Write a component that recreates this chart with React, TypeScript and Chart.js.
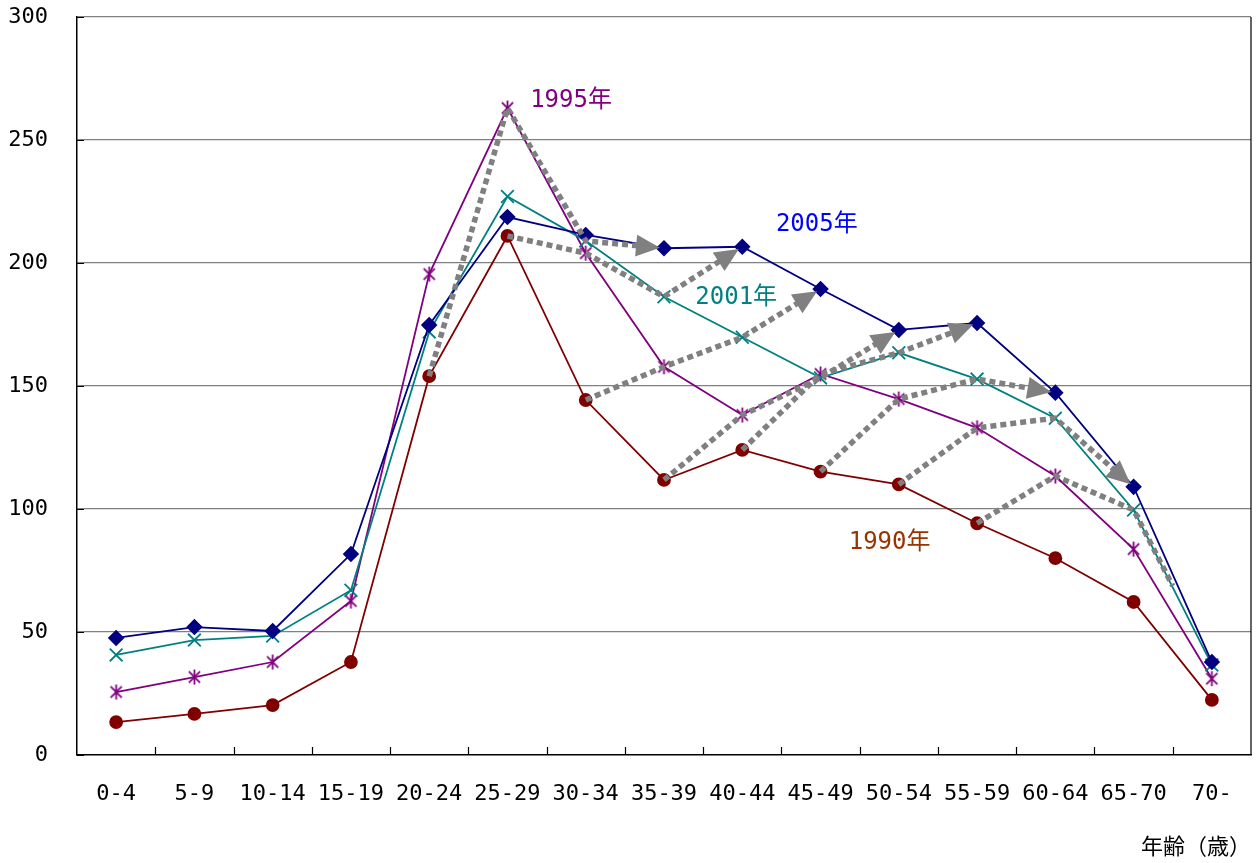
import React, { useEffect, useRef } from 'react';
import { Chart, registerables } from 'chart.js';

Chart.register(...registerables);

// Age groups (x axis) and rates per survey year
const ageGroups = ['0-4', '5-9', '10-14', '15-19', '20-24', '25-29', '30-34', '35-39', '40-44', '45-49', '50-54', '55-59', '60-64', '65-70', '70-'];
const rate2005 = [47.6, 52, 50.4, 81.7, 174.8, 218.7, 211.4, 206, 206.6, 189.4, 172.8, 175.6, 147.3, 109, 37.8];
const rate2001 = [40.7, 46.7, 48.4, 67, 172, 227, 209, 186.3, 169.8, 153.3, 163.5, 152.8, 136.9, 99.6, 36.6];
const rate1995 = [25.6, 31.7, 37.8, 62.6, 195.5, 263, 204, 157.8, 138.2, 154.9, 144.7, 133, 113.4, 83.7, 31];
const rate1990 = [13.4, 16.7, 20.3, 37.8, 154, 211, 144.3, 111.8, 124, 115.2, 110, 94.2, 80, 62.2, 22.4];
const yTicks = [0, 50, 100, 150, 200, 250, 300];
const axisTitle = '年齢（歳）';

// Cohorts followed across the four surveys (index of the 1990 age group)
const cohortStarts = [4, 5, 6, 7, 8, 9, 10];
const openCohortStart = 11;

const FONT = '"DejaVu Sans Mono", "Noto Sans CJK JP", monospace';
const NAVY = '#000080';
const TEAL = '#008080';
const PURPLE = '#800080';
const MAROON = '#800000';

function makeAsterisk(color: string): HTMLCanvasElement {
  const size = 17;
  const c = document.createElement('canvas');
  c.width = size;
  c.height = size;
  const g = c.getContext('2d')!;
  g.strokeStyle = color;
  g.lineWidth = 1.8;
  const m = size / 2;
  const r = 7.5;
  const d = 5.6;
  g.beginPath();
  g.moveTo(m, m - r);
  g.lineTo(m, m + r);
  g.moveTo(m - d, m - d);
  g.lineTo(m + d, m + d);
  g.moveTo(m - d, m + d);
  g.lineTo(m + d, m - d);
  g.stroke();
  return c;
}

const frameAndTicks = {
  id: 'frameAndTicks',
  afterDraw(chart: any) {
    const { ctx, chartArea, scales } = chart;
    const x = scales.x;
    const y = scales.y;
    ctx.save();
    ctx.strokeStyle = '#000';
    ctx.lineWidth = 1.2;
    ctx.beginPath();
    ctx.moveTo(chartArea.right, chartArea.top);
    ctx.lineTo(chartArea.right, chartArea.bottom);
    for (let i = 1; i < ageGroups.length; i++) {
      const px = Math.round((x.getPixelForValue(i - 1) + x.getPixelForValue(i)) / 2) + 0.5;
      ctx.moveTo(px, chartArea.bottom);
      ctx.lineTo(px, chartArea.bottom - 8);
    }
    yTicks.forEach((v) => {
      const py = Math.round(y.getPixelForValue(v)) + 0.5;
      ctx.moveTo(chartArea.left, py);
      ctx.lineTo(chartArea.left + 7, py);
    });
    ctx.stroke();
    ctx.restore();
  },
};

const cohortArrows = {
  id: 'cohortArrows',
  afterDatasetsDraw(chart: any) {
    const { ctx, scales } = chart;
    const x = scales.x;
    const y = scales.y;
    const waves = [rate1990, rate1995, rate2001, rate2005];
    const pointsFor = (start: number) =>
      waves.map((arr, k) => ({ x: x.getPixelForValue(start + k), y: y.getPixelForValue(arr[start + k]) }));

    ctx.save();
    ctx.strokeStyle = '#808080';
    ctx.fillStyle = '#808080';
    ctx.lineWidth = 5.5;
    ctx.lineCap = 'butt';
    ctx.setLineDash([6, 4]);

    cohortStarts.forEach((start) => {
      const p = pointsFor(start);
      const a = p[2];
      const b = p[3];
      const dx = b.x - a.x;
      const dy = b.y - a.y;
      const len = Math.hypot(dx, dy);
      const ux = dx / len;
      const uy = dy / len;
      const tipX = b.x - ux * 4;
      const tipY = b.y - uy * 4;
      const headLen = 24;
      const halfW = 11;
      const baseX = tipX - ux * headLen;
      const baseY = tipY - uy * headLen;
      ctx.beginPath();
      ctx.moveTo(p[0].x, p[0].y);
      ctx.lineTo(p[1].x, p[1].y);
      ctx.lineTo(p[2].x, p[2].y);
      ctx.lineTo(baseX + ux * 4, baseY + uy * 4);
      ctx.stroke();
      ctx.beginPath();
      ctx.moveTo(tipX, tipY);
      ctx.lineTo(baseX - uy * halfW, baseY + ux * halfW);
      ctx.lineTo(baseX + uy * halfW, baseY - ux * halfW);
      ctx.closePath();
      ctx.fill();
    });

    const q = pointsFor(openCohortStart);
    ctx.beginPath();
    ctx.moveTo(q[0].x, q[0].y);
    ctx.lineTo(q[1].x, q[1].y);
    ctx.lineTo(q[2].x, q[2].y);
    ctx.lineTo((q[2].x + q[3].x) / 2, (q[2].y + q[3].y) / 2);
    ctx.stroke();
    ctx.restore();
  },
};

// Year captions placed in data space next to their curves
const yearCaptions = [
  { text: '1995年', color: '#800080', at: [5.29, 266] },
  { text: '2005年', color: '#0000FF', at: [8.43, 215.5] },
  { text: '2001年', color: '#008080', at: [7.4, 186] },
  { text: '1990年', color: '#993300', at: [9.36, 86.3] },
];

const captionPlugin = {
  id: 'yearCaptions',
  afterDraw(chart: any) {
    const { ctx, scales } = chart;
    ctx.save();
    ctx.font = `24px ${FONT}`;
    ctx.textAlign = 'left';
    ctx.textBaseline = 'middle';
    yearCaptions.forEach((c) => {
      ctx.fillStyle = c.color;
      ctx.fillText(c.text, scales.x.getPixelForValue(c.at[0]), scales.y.getPixelForValue(c.at[1]));
    });
    ctx.restore();
  },
};

export default function App() {
  const canvasRef = useRef<HTMLCanvasElement | null>(null);

  useEffect(() => {
    document.body.style.margin = '0';
    const canvas = canvasRef.current;
    if (!canvas) return;
    const star = makeAsterisk(PURPLE);

    const line = (label: string, data: number[], color: string, pointStyle: any, radius: number) => ({
      label,
      data,
      borderColor: color,
      backgroundColor: color,
      borderWidth: 1.8,
      pointStyle,
      pointRadius: radius,
      pointBorderWidth: 1.8,
      pointBorderColor: color,
      pointBackgroundColor: color,
      tension: 0,
    });

    const chart = new Chart(canvas, {
      type: 'line',
      data: {
        labels: ageGroups,
        datasets: [
          line('2005年', rate2005, NAVY, 'rectRot', 7),
          line('2001年', rate2001, TEAL, 'crossRot', 9),
          line('1995年', rate1995, PURPLE, star, 8),
          line('1990年', rate1990, MAROON, 'circle', 6),
        ],
      },
      options: {
        responsive: false,
        maintainAspectRatio: false,
        animation: false,
        devicePixelRatio: 1,
        layout: { autoPadding: false, padding: { top: 17, right: 5, left: 0, bottom: 0 } },
        plugins: {
          legend: { display: false },
          tooltip: { enabled: false },
        },
        scales: {
          x: {
            offset: true,
            grid: { display: false, drawTicks: false },
            border: { display: true, color: '#000', width: 1.5 },
            ticks: {
              color: '#000',
              font: { family: FONT, size: 22 },
              padding: 26,
              autoSkip: false,
              maxRotation: 0,
            },
            title: {
              display: true,
              text: axisTitle,
              align: 'end',
              color: '#000',
              font: { family: FONT, size: 22 },
              padding: { top: 0, bottom: 2 },
            },
            afterFit: (scale: any) => {
              scale.height = 108;
              scale.paddingLeft = 0;
              scale.paddingRight = 0;
            },
          },
          y: {
            min: 0,
            max: 300,
            ticks: {
              stepSize: 50,
              color: '#000',
              font: { family: FONT, size: 22 },
              padding: 29,
            },
            grid: {
              drawTicks: false,
              color: (ctx: any) => (ctx.tick && ctx.tick.value === 0 ? 'rgba(0,0,0,0)' : '#808080'),
              lineWidth: 1.3,
            },
            border: { display: true, color: '#000', width: 1.5 },
            afterFit: (scale: any) => {
              scale.width = 77;
              scale.paddingTop = 0;
              scale.paddingBottom = 0;
            },
          },
        },
      },
      plugins: [cohortArrows, frameAndTicks, captionPlugin],
    });

    return () => chart.destroy();
  }, []);

  return (
    <div style={{ width: 1256, height: 863 }}>
      <canvas ref={canvasRef} width={1256} height={863} style={{ width: 1256, height: 863, display: 'block' }} />
    </div>
  );
}
